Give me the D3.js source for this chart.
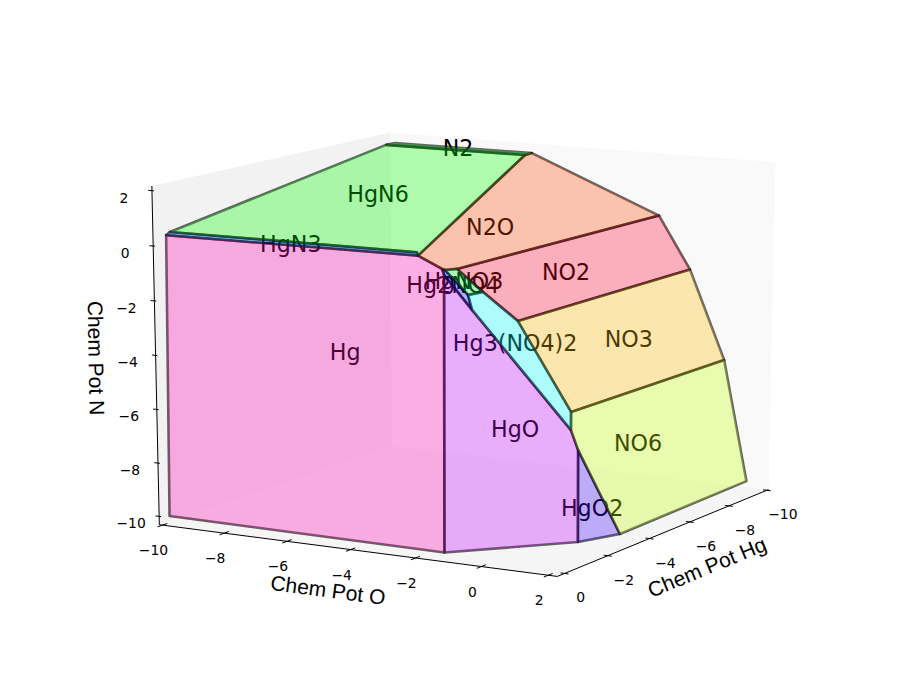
<!DOCTYPE html><html><head><meta charset="utf-8"><style>html,body{margin:0;background:#fff}svg{display:block}</style>
<script src="https://cdn.jsdelivr.net/npm/d3@7"></script></head><body>
<svg id="c" width="919" height="700"></svg>
<script>
// chemical potentials, each point is [Hg, O, N]
const hgLim=[-10.091,0.33], oLim=[-10.101,2.268], nLim=[-10.316,2.169];
const hgTicks=[0,-2,-4,-6,-8,-10], oTicks=[-10,-8,-6,-4,-2,0,2], nTicks=[2,0,-2,-4,-6,-8,-10];

const facetNames=["Hg","HgN3","HgN6","N2","N2O","NO2","NO3","NO6","HgO2","HgO","Hg3(NO4)2","HgNO3","Hg2NO4"];
const facetColors=["#ff00b2","#0080ff","#00ff00","#00ff20","#ff4400","#ff002d","#ffbc00","#c3ff00","#3e00ff","#c300ff","#00ffff","#00ff3e","#0000ff"];
const fHg=[[0.18,-9.88,-10],[0.28,-1.15,-10],[0,-1.34,-0.16],[0,-1.40,0.05],[0,-2.12,0.44],[0,-9.94,0.34]];
const fHgN3=[[0,-9.94,0.34],[-0.23,-10,0.40],[-0.10,-2.22,0.52],[0,-2.12,0.44]];
const fHgN6=[[-0.23,-10,0.40],[-9.74,-10,1.76],[-9.66,-5.36,1.81],[0,-2.12,0.44],[-0.10,-2.22,0.52]];
const fN2=[[-9.74,-10,1.76],[-10.16,-10,1.75],[-10,-5.36,1.82],[-9.66,-5.36,1.81]];
const fN2O=[[0,-2.12,0.44],[-9.66,-5.36,1.81],[-10,-5.36,1.82],[-10,-1.27,-0.17],[-0.46,-1.27,-0.04],[-0.26,-1.49,-0.06],[0,-1.40,0.05]];
const fNO2=[[-0.46,-1.27,-0.04],[-10,-1.27,-0.17],[-10,-0.27,-2.12],[-1.69,-0.27,-2.07],[-1.02,-0.87,-0.94]];
const fNO3=[[-1.69,-0.27,-2.07],[-10,-0.27,-2.12],[-10,0.85,-5.46],[-2.44,0.85,-5.40]];
const fNO6=[[-2.44,0.85,-5.40],[-10,0.85,-5.46],[-10,1.62,-10.05],[-3.31,1.80,-10],[-2.44,1.07,-6.76],[-2.30,0.94,-6.01]];
const fHgO2=[[-2.44,1.07,-6.76],[-3.31,1.80,-10],[-2.12,1.29,-10]];
const fHgO=[[0,-1.34,-0.16],[-0.21,-0.65,-1.36],[-2.30,0.94,-6.01],[-2.44,1.07,-6.76],[-2.12,1.29,-10],[0.28,-1.15,-10]];
const fHg3=[[-0.65,-1.07,-0.98],[-1.02,-0.87,-0.94],[-1.69,-0.27,-2.07],[-2.44,0.85,-5.40],[-2.30,0.94,-6.01],[-0.21,-0.65,-1.36]];
const fHgNO3=[[-0.26,-1.49,-0.06],[-0.46,-1.27,-0.04],[-1.02,-0.87,-0.94],[-0.65,-1.07,-0.98]];
const fHg2NO4=[[0,-1.40,0.05],[-0.26,-1.49,-0.06],[-0.65,-1.07,-0.98],[-0.21,-0.65,-1.36],[0,-1.34,-0.16]];
const facets=[fHg,fHgN3,fHgN6,fN2,fN2O,fNO2,fNO3,fNO6,fHgO2,fHgO,fHg3,fHgNO3,fHg2NO4];
const labelPoints=[[0,-4.36,-3.25],[-0.03,-6.03,0.43],[-4.97,-6.87,1.12],[-9.88,-7.70,1.82],[-4.03,-2.69,0.53],[-4.72,-0.81,-1.07],[-6.08,0.27,-3.74],[-5.18,1.15,-7.26],[-2.37,1.55,-8.79],[-0.98,0.13,-5.71],[-1.49,-0.22,-2.80],[-0.63,-1.18,-0.50],[-0.35,-1.32,-0.59]];

// camera
const elev=13.564*Math.PI/180, azim=29.891*Math.PI/180, dist=10;
const ce=Math.cos(elev),se=Math.sin(elev),ca=Math.cos(azim),sa=Math.sin(azim);
const hgS=d3.scaleLinear().domain(hgLim).range([-.5,.5]), oS=d3.scaleLinear().domain(oLim).range([-.5,.5]), nS=d3.scaleLinear().domain(nLim).range([-.5,.5]);
const px=d3.scaleLinear().domain([0,1]).range([469.331,469.331+4512.794]), py=d3.scaleLinear().domain([0,1]).range([342.31,342.31-3425.212]);
function P(d){const x=hgS(d[0]),y=oS(d[1]),z=nS(d[2]);
  const w=dist-(ce*ca*x+ce*sa*y+se*z);
  return [px((-sa*x+ca*y)/w), py((-se*ca*x-se*sa*y+ce*z)/w)];}
const line=d3.line().x(d=>P(d)[0]).y(d=>P(d)[1]);
const closed=d3.line().x(d=>P(d)[0]).y(d=>P(d)[1]).curve(d3.curveLinearClosed);
const svg=d3.select("#c");
const [h0,h1]=hgLim,[o0,o1]=oLim,[n0,n1]=nLim;

// panes
svg.selectAll("path.pane").data([
 {c:"#f2f2f2",v:[[h1,o0,n0],[h0,o0,n0],[h0,o0,n1],[h1,o0,n1]]},
 {c:"#f9f9f9",v:[[h0,o0,n0],[h0,o1,n0],[h0,o1,n1],[h0,o0,n1]]},
 {c:"#f5f5f5",v:[[h1,o0,n0],[h1,o1,n0],[h0,o1,n0],[h0,o0,n0]]}])
 .join("path").attr("class","pane").attr("d",d=>closed(d.v)).attr("fill",d=>d.c);

// axes
const ax=svg.append("g").attr("stroke","#000").attr("stroke-width",1).attr("fill","none");
[[[h1,o0,n0],[h1,o1,n0]],[[h1,o1,n0],[h0,o1,n0]],[[h1,o0,n0],[h1,o0,n1]]].forEach(s=>ax.append("path").attr("d",line(s)));
oTicks.forEach(t=>ax.append("path").attr("d",line([[h1+.2,t,n0],[h1-.2,t,n0]])));
hgTicks.forEach(t=>ax.append("path").attr("d",line([[t,o1+.12,n0],[t,o1-.12,n0]])));
nTicks.forEach(t=>ax.append("path").attr("d",line([[h1,o0-.12,t],[h1,o0+.06,t]])));
const fmt=t=>String(t).replace("-","\u2212");
const tg=svg.append("g").attr("font-family","DejaVu Sans").attr("font-size",13.9).attr("text-anchor","middle").attr("fill","#000");
oTicks.forEach(t=>{const p=P([h1,t,n0]);tg.append("text").attr("x",p[0]-9).attr("y",p[1]+25+5).text(fmt(t));});
hgTicks.forEach(t=>{const p=P([t,o1,n0]);tg.append("text").attr("x",p[0]+16).attr("y",p[1]+24+5).text(fmt(t));});
nTicks.forEach(t=>{const p=P([h1,o0,t]);tg.append("text").attr("x",p[0]-28).attr("y",p[1]+7+5).text(fmt(t));});

const titles=[["Chem Pot O",328,590,7.5],["Chem Pot Hg",707,567,-22.5],["Chem Pot N",96,358,89]];
svg.append("g").selectAll("text").data(titles).join("text")
 .attr("font-family","Liberation Sans").attr("font-size",21).attr("text-anchor","middle").attr("dy",".35em")
 .attr("transform",d=>`translate(${d[1]},${d[2]}) rotate(${d[3]})`).text(d=>d[0]);

// labels and edges sit beneath the translucent facet fills
svg.append("g").selectAll("text").data(facetNames).join("text")
 .attr("font-family","DejaVu Sans").attr("font-size",22.2).attr("text-anchor","middle").attr("dy",".36em")
 .attr("x",(d,i)=>P(labelPoints[i])[0]).attr("y",(d,i)=>P(labelPoints[i])[1]).text(d=>d);

svg.append("g").selectAll("path").data(facets).join("path")
 .attr("d",closed).attr("fill","none")
 .attr("stroke","#000").attr("stroke-opacity",.6).attr("stroke-width",2.6).attr("stroke-linejoin","round");
svg.append("g").selectAll("path").data(facets).join("path")
 .attr("d",closed).attr("fill",(d,i)=>facetColors[i]).attr("fill-opacity",.3);
</script></body></html>
